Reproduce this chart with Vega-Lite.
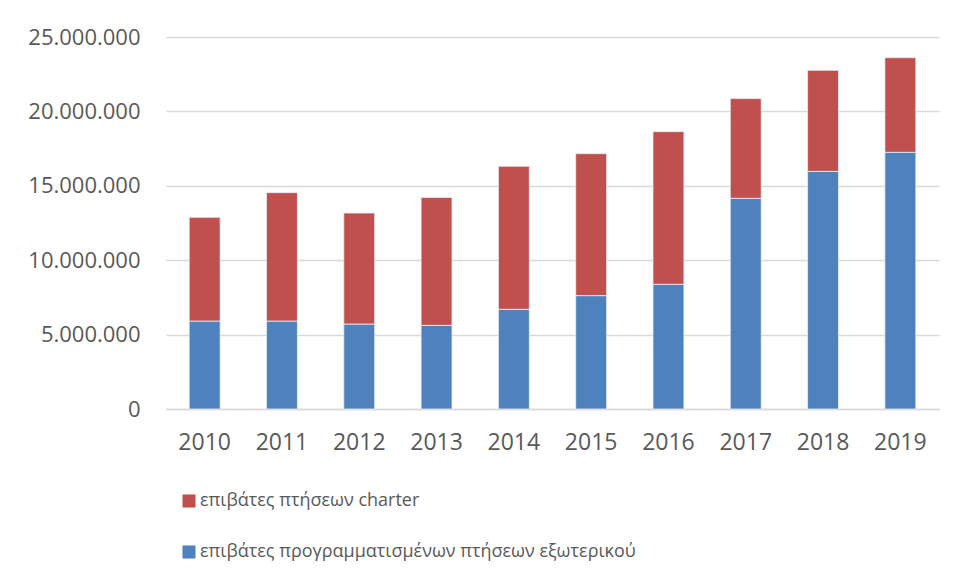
{
  "$schema": "https://vega.github.io/schema/vega-lite/v6.json",
  "autosize": "none",
  "width": 773,
  "height": 372,
  "padding": {"left": 166, "top": 37, "right": 20, "bottom": 166},
  "background": "white",
  "config": {
    "locale": {"number": {"decimal": ",", "thousands": ".", "grouping": [3], "currency": ["", " €"]}},
    "font": "Open Sans",
    "view": {"stroke": null}
  },
  "data": {
    "values": [
      {"year": "2010", "series": "επιβάτες προγραμματισμένων πτήσεων εξωτερικού", "value": 5910000},
      {"year": "2010", "series": "επιβάτες πτήσεων charter", "value": 6970000},
      {"year": "2011", "series": "επιβάτες προγραμματισμένων πτήσεων εξωτερικού", "value": 5910000},
      {"year": "2011", "series": "επιβάτες πτήσεων charter", "value": 8630000},
      {"year": "2012", "series": "επιβάτες προγραμματισμένων πτήσεων εξωτερικού", "value": 5710000},
      {"year": "2012", "series": "επιβάτες πτήσεων charter", "value": 7460000},
      {"year": "2013", "series": "επιβάτες προγραμματισμένων πτήσεων εξωτερικού", "value": 5620000},
      {"year": "2013", "series": "επιβάτες πτήσεων charter", "value": 8600000},
      {"year": "2014", "series": "επιβάτες προγραμματισμένων πτήσεων εξωτερικού", "value": 6700000},
      {"year": "2014", "series": "επιβάτες πτήσεων charter", "value": 9610000},
      {"year": "2015", "series": "επιβάτες προγραμματισμένων πτήσεων εξωτερικού", "value": 7620000},
      {"year": "2015", "series": "επιβάτες πτήσεων charter", "value": 9540000},
      {"year": "2016", "series": "επιβάτες προγραμματισμένων πτήσεων εξωτερικού", "value": 8380000},
      {"year": "2016", "series": "επιβάτες πτήσεων charter", "value": 10260000},
      {"year": "2017", "series": "επιβάτες προγραμματισμένων πτήσεων εξωτερικού", "value": 14160000},
      {"year": "2017", "series": "επιβάτες πτήσεων charter", "value": 6700000},
      {"year": "2018", "series": "επιβάτες προγραμματισμένων πτήσεων εξωτερικού", "value": 15970000},
      {"year": "2018", "series": "επιβάτες πτήσεων charter", "value": 6790000},
      {"year": "2019", "series": "επιβάτες προγραμματισμένων πτήσεων εξωτερικού", "value": 17250000},
      {"year": "2019", "series": "επιβάτες πτήσεων charter", "value": 6360000}
    ]
  },
  "mark": {"type": "bar", "stroke": "#e8eef8", "strokeWidth": 0.8},
  "encoding": {
    "x": {
      "field": "year", "type": "nominal",
      "scale": {"paddingInner": 0.6, "paddingOuter": 0.3},
      "axis": {
        "title": null, "labelAngle": 0, "labelFontSize": 23, "labelColor": "#595959",
        "ticks": false, "domainColor": "#d9d9d9", "domainWidth": 1.5, "labelPadding": 22, "grid": false
      }
    },
    "y": {
      "field": "value", "type": "quantitative", "stack": "zero",
      "scale": {"domain": [0, 25000000], "nice": false},
      "axis": {
        "title": null, "values": [0, 5000000, 10000000, 15000000, 20000000, 25000000],
        "format": ",d", "labelFontSize": 22, "labelColor": "#595959",
        "ticks": false, "domain": false, "gridColor": "#d9d9d9", "gridWidth": 1.5, "labelPadding": 26
      }
    },
    "color": {
      "field": "series", "type": "nominal",
      "scale": {
        "domain": ["επιβάτες πτήσεων charter", "επιβάτες προγραμματισμένων πτήσεων εξωτερικού"],
        "range": ["#C0504D", "#4F81BD"]
      },
      "legend": {
        "title": null, "orient": "none", "legendX": 14, "legendY": 455,
        "direction": "vertical", "symbolType": "square", "symbolSize": 170,
        "symbolStrokeWidth": 0, "labelFontSize": 18, "labelColor": "#595959",
        "labelOffset": 2, "rowPadding": 33, "labelLimit": 700
      }
    },
    "order": {"field": "series", "sort": "ascending"}
  }
}
